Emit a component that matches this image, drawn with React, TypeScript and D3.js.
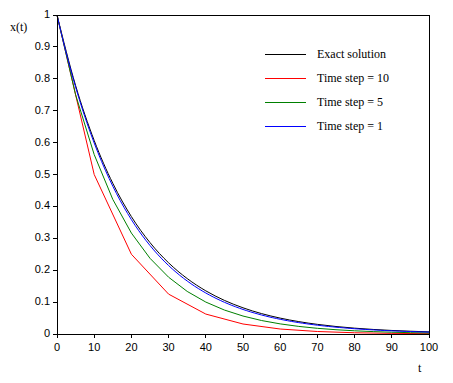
import React from "react";
import * as d3 from "d3";

const exactT = [0,5,10,15,20,25,30,35,40,45,50,55,60,65,70,75,80,85,90,95,100];
const exactX = [1,0.7788,0.6065,0.4724,0.3679,0.2865,0.2231,0.1738,0.1353,0.1054,0.0821,0.0639,0.0498,0.0388,0.0302,0.0235,0.0183,0.0143,0.0111,0.0087,0.0067];

const step10T = [0,10,20,30,40,50,60,70,80,90,100];
const step10X = [1,0.5,0.25,0.125,0.0625,0.0313,0.0156,0.0078,0.0039,0.002,0.001];

const step5T = [0,5,10,15,20,25,30,35,40,45,50,55,60,65,70,75,80,85,90,95,100];
const step5X = [1,0.75,0.5625,0.4219,0.3164,0.2373,0.178,0.1335,0.1001,0.0751,0.0563,0.0422,0.0317,0.0238,0.0178,0.0134,0.01,0.0075,0.0056,0.0042,0.0032];

const step1X = [1,0.95,0.9025,0.8574,0.8145,0.7738,0.7351,0.6983,0.6634,0.6302,0.5987,0.5688,0.5404,0.5133,0.4877,0.4633,0.4401,0.4181,0.3972,0.3774,0.3585,0.3406,0.3235,0.3074,0.292,0.2774,0.2635,0.2503,0.2378,0.2259,0.2146,0.2039,0.1937,0.184,0.1748,0.1661,0.1578,0.1499,0.1424,0.1353,0.1285,0.1221,0.116,0.1102,0.1047,0.0994,0.0945,0.0897,0.0853,0.081,0.0769,0.0731,0.0694,0.066,0.0627,0.0595,0.0566,0.0537,0.051,0.0485,0.0461,0.0438,0.0416,0.0395,0.0375,0.0356,0.0339,0.0322,0.0306,0.029,0.0276,0.0262,0.0249,0.0236,0.0225,0.0213,0.0203,0.0193,0.0183,0.0174,0.0165,0.0157,0.0149,0.0142,0.0135,0.0128,0.0122,0.0116,0.011,0.0104,0.0099,0.0094,0.009,0.0085,0.0081,0.0077,0.0073,0.0069,0.0066,0.0063,0.0059];
const step1T = step1X.map((_, i) => i);

const xTicks = [0,10,20,30,40,50,60,70,80,90,100];
const yTicks = [0,0.1,0.2,0.3,0.4,0.5,0.6,0.7,0.8,0.9,1];
const yTickLabels = ["0","0.1","0.2","0.3","0.4","0.5","0.6","0.7","0.8","0.9","1"];

const legendLabels = ["Exact solution","Time step = 10","Time step = 5","Time step = 1"];
const colors = ["#000000","#ff0000","#008000","#0000ff"];

export default function App() {
  const x = d3.scaleLinear().domain([0, 100]).range([57, 429]);
  const y = d3.scaleLinear().domain([0, 1]).range([334, 15]);
  const lineLin = d3.line<[number, number]>().x(d => x(d[0])).y(d => y(d[1]));
  const lineSmooth = d3.line<[number, number]>().x(d => x(d[0])).y(d => y(d[1])).curve(d3.curveMonotoneX);
  const zip = (a: number[], b: number[]) => a.map((v, i) => [v, b[i]] as [number, number]);

  const series = [
    { d: lineSmooth(zip(exactT, exactX)), c: colors[0] },
    { d: lineLin(zip(step10T, step10X)), c: colors[1] },
    { d: lineLin(zip(step5T, step5X)), c: colors[2] },
    { d: lineLin(zip(step1T, step1X)), c: colors[3] },
  ];
  const tickFont = "'Liberation Sans', Arial, sans-serif";
  const serif = "'Liberation Serif', 'Times New Roman', serif";

  return (
    <svg width={453} height={383} style={{ position: "absolute", left: 0, top: 0, background: "#fff" }}>
      <rect x={0} y={0} width={453} height={383} fill="#fff" />
      {series.map((s, i) => (
        <path key={i} d={s.d || ""} fill="none" stroke={s.c} strokeWidth={1} />
      ))}
      <rect x={x(0)} y={y(1)} width={x(100) - x(0)} height={y(0) - y(1)} fill="none" stroke="#000" strokeWidth={1} shapeRendering="crispEdges" />
      {xTicks.map(t => (
        <g key={"x" + t}>
          <line x1={x(t)} x2={x(t)} y1={y(0)} y2={y(0) + 4} stroke="#000" shapeRendering="crispEdges" />
          <text x={x(t)} y={351} textAnchor="middle" fontFamily={tickFont} fontSize={11}>{t}</text>
        </g>
      ))}
      {yTicks.map((t, i) => (
        <g key={"y" + t}>
          <line x1={x(0) - 4} x2={x(0)} y1={y(t)} y2={y(t)} stroke="#000" shapeRendering="crispEdges" />
          <text x={50} y={y(t) + 3} textAnchor="end" fontFamily={tickFont} fontSize={11}>{yTickLabels[i]}</text>
        </g>
      ))}
      <text x={10} y={31} fontFamily={serif} fontSize={12}>x(t)</text>
      <text x={418} y={372} fontFamily={serif} fontSize={12}>t</text>
      {legendLabels.map((l, i) => (
        <g key={l}>
          <line x1={265} x2={306} y1={54 + i * 24} y2={54 + i * 24} stroke={colors[i]} shapeRendering="crispEdges" />
          <text x={317} y={58 + i * 24} fontFamily={serif} fontSize={12}>{l}</text>
        </g>
      ))}
    </svg>
  );
}
